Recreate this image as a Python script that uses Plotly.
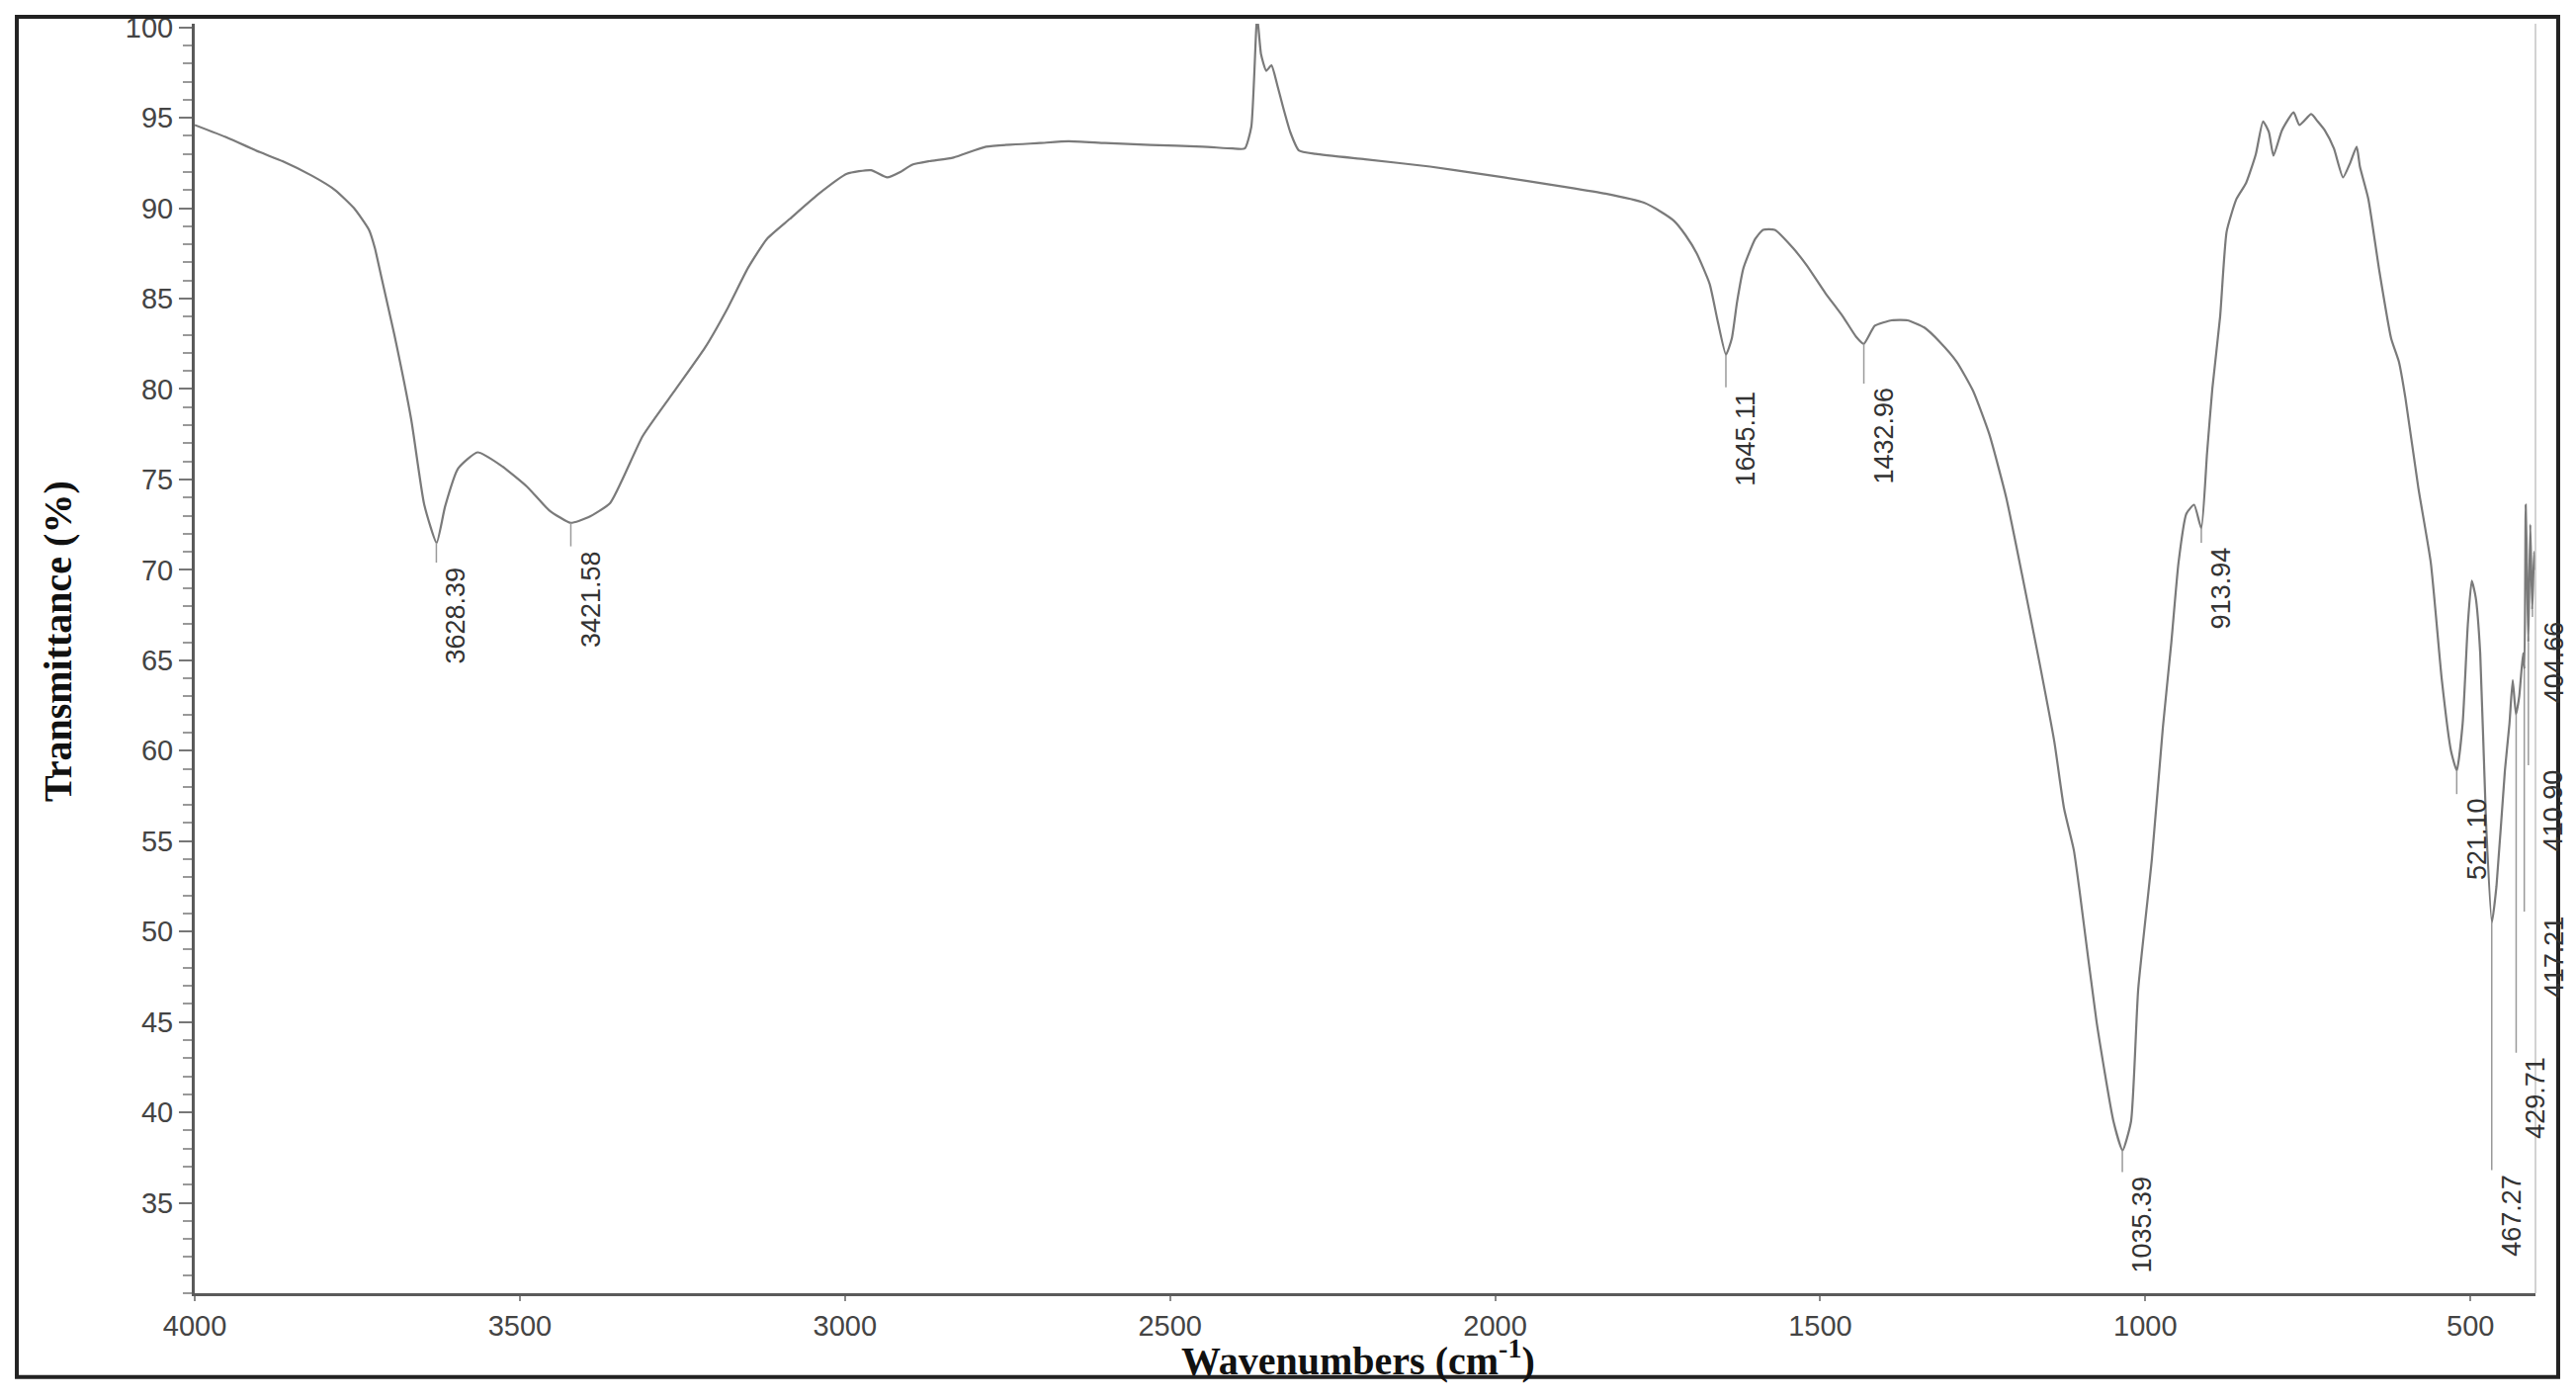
"""FTIR spectrum: transmittance vs wavenumber with labelled absorption bands."""

import plotly.graph_objects as go

# espectro (cm-1, %T)
wavenumber = [
    4000, 3950, 3900, 3865, 3820, 3784, 3755, 3732, 3723, 3713, 3693, 3667,
    3647, 3628, 3615, 3595, 3565, 3530, 3489, 3455, 3422, 3395, 3361, 3311,
    3260, 3215, 3180, 3149, 3120, 3085, 3040, 2997, 2960, 2935, 2915, 2897,
    2870, 2833, 2783, 2700, 2656, 2600, 2530, 2450, 2404, 2385, 2375, 2366,
    2360, 2352, 2344, 2335, 2327, 2315, 2302, 2276, 2200, 2100, 2023, 1950,
    1897, 1830, 1771, 1745, 1725, 1707, 1690, 1670, 1658, 1645, 1636, 1628,
    1618, 1600, 1588, 1570, 1542, 1520, 1492, 1465, 1445, 1433, 1416, 1390,
    1366, 1340, 1316, 1290, 1265, 1240, 1214, 1190, 1163, 1140, 1125, 1110,
    1101, 1075, 1049, 1035, 1022, 1011, 990, 973, 960, 949, 937, 925, 914,
    905, 897, 885, 875, 860, 845, 830, 819, 810, 803, 790, 772, 763, 745,
    735, 724, 710, 696, 685, 675, 670, 657, 640, 622, 610, 600, 580, 561,
    544, 530, 521, 512, 504, 498, 492, 485, 476, 467, 460, 447, 440, 435,
    430, 425, 419, 417, 415, 413, 411, 408, 405, 402, 400,
]
transmittance = [
    94.6, 93.9, 93.1, 92.6, 91.8, 91.0, 90.0, 88.8, 87.8, 86.2, 83.0, 78.3,
    73.6, 71.5, 73.5, 75.6, 76.5, 75.8, 74.6, 73.3, 72.6, 72.9, 73.7, 77.4,
    80.0, 82.3, 84.5, 86.7, 88.3, 89.4, 90.8, 91.9, 92.1, 91.7, 92.0, 92.4,
    92.6, 92.8, 93.4, 93.6, 93.7, 93.6, 93.5, 93.4, 93.3, 93.3, 94.5, 100.6,
    98.5, 97.6, 97.9, 96.8, 95.7, 94.2, 93.2, 93.0, 92.7, 92.3, 91.9, 91.5,
    91.2, 90.8, 90.3, 89.8, 89.3, 88.5, 87.5, 85.8, 83.8, 81.9, 82.8, 84.8,
    86.7, 88.3, 88.8, 88.8, 87.8, 86.8, 85.3, 84.0, 82.9, 82.5, 83.5, 83.8,
    83.8, 83.4, 82.6, 81.5, 79.9, 77.5, 74.0, 69.8, 64.9, 60.5, 56.8, 54.5,
    52.2, 45.0, 39.5, 37.9, 39.5, 46.8, 54.0, 61.3, 66.0, 70.4, 73.1, 73.6,
    72.3, 76.5, 80.0, 84.0, 88.7, 90.5, 91.4, 93.0, 94.8, 94.2, 92.9, 94.3,
    95.3, 94.6, 95.2, 94.8, 94.3, 93.3, 91.7, 92.5, 93.4, 92.3, 90.5, 86.5,
    82.8, 81.5, 79.5, 74.5, 70.4, 63.9, 60.0, 58.9, 61.5, 67.0, 69.4, 68.5,
    65.4, 56.0, 50.5, 52.5, 58.9, 61.5, 63.9, 62.0, 63.0, 65.4, 64.5, 73.6,
    70.0, 66.0, 72.5, 67.8, 71.0, 70.0,
]

# bandas marcadas: posición, %T en la banda, nivel del extremo superior de la etiqueta
peak_wn = [3628.39, 3421.58, 1645.11, 1432.96, 1035.39, 913.94,
           521.10, 467.27, 429.71, 417.21, 410.90, 404.66]
peak_t = [71.5, 72.6, 81.9, 82.5, 37.9, 72.3, 58.9, 50.5, 62.0, 64.5, 66.0, 67.8]
label_t = [70.4, 71.3, 80.1, 80.3, 36.7, 71.5, 57.6, 36.8, 43.3, 51.1, 59.2, 67.4]

x_ticks = [4000, 3500, 3000, 2500, 2000, 1500, 1000, 500]
y_ticks = [35, 40, 45, 50, 55, 60, 65, 70, 75, 80, 85, 90, 95, 100]

W, H = 2606, 1415
L, R, T, B = 197, 41, 22, 107
TICK_FONT = dict(family="Arial, Liberation Sans, sans-serif", size=29, color="#444")
TITLE_FONT = dict(family="Times New Roman, Liberation Serif, serif", size=40, color="#111")
LABEL_FONT = dict(family="Liberation Sans Narrow, Arial Narrow, Liberation Sans, sans-serif",
                  size=27, color="#333")

fig = go.Figure()
fig.add_trace(
    go.Scatter(
        x=wavenumber,
        y=transmittance,
        mode="lines",
        line=dict(color="#7a7a7a", width=2.2, shape="spline", smoothing=0.5),
        hoverinfo="x+y",
        showlegend=False,
    )
)

# trazos verticales de las bandas
seg_x, seg_y = [], []
for w, p, lt in zip(peak_wn, peak_t, label_t):
    seg_x += [w, w, None]
    seg_y += [p, lt, None]
fig.add_trace(
    go.Scatter(x=seg_x, y=seg_y, mode="lines", line=dict(color="#9a9a9a", width=1.5),
               hoverinfo="skip", showlegend=False)
)

shifts = {417.21: 13, 410.90: 9, 404.66: 5}
for w, lt in zip(peak_wn, label_t):
    fig.add_annotation(
        x=w, y=lt, text=f"{w:.2f}", textangle=-90, showarrow=False,
        xanchor="left", yanchor="top", xshift=shifts.get(w, 3), yshift=-2,
        font=LABEL_FONT,
    )

fig.add_annotation(
    x=0.497, y=-0.051, xref="paper", yref="paper", showarrow=False,
    text="<b>Wavenumbers (cm<sup>-1</sup>)</b>", font=TITLE_FONT,
    xanchor="center", yanchor="middle",
)
fig.add_annotation(
    x=-0.0587, y=0.514, xref="paper", yref="paper", showarrow=False,
    text="<b>Transmittance (%)</b>", font=TITLE_FONT, textangle=-90,
    xanchor="center", yanchor="middle",
)

# marco exterior y borde derecho del área
fig.add_shape(type="rect", xref="paper", yref="paper", x0=-0.076, x1=1.0097,
              y0=-0.0661, y1=1.0054, line=dict(color="#222", width=4))
fig.add_shape(type="line", xref="paper", yref="paper", x0=1, x1=1, y0=0, y1=1,
              line=dict(color="#c4c4c4", width=1.5))

fig.update_xaxes(
    range=[4000, 400], tickvals=x_ticks, showgrid=False, zeroline=False,
    showline=True, linecolor="#5a5a5a", linewidth=3,
    ticks="outside", ticklen=5, tickwidth=1.5, tickcolor="#888",
    tickfont=TICK_FONT,
)
fig.update_yaxes(
    range=[30, 100.2], tickvals=y_ticks, showgrid=False, zeroline=False,
    showline=True, linecolor="#5a5a5a", linewidth=3,
    ticks="outside", ticklen=13, tickwidth=2, tickcolor="#777",
    minor=dict(dtick=1, ticks="outside", ticklen=9, tickwidth=1.5, tickcolor="#999"),
    tickfont=TICK_FONT,
)
fig.update_layout(
    width=W, height=H,
    margin=dict(l=L, r=R, t=T, b=B),
    plot_bgcolor="white", paper_bgcolor="white",
)

fig.write_html(
    "out.html",
    config={"displayModeBar": False},
    post_script="document.body.style.margin='0';",
)
